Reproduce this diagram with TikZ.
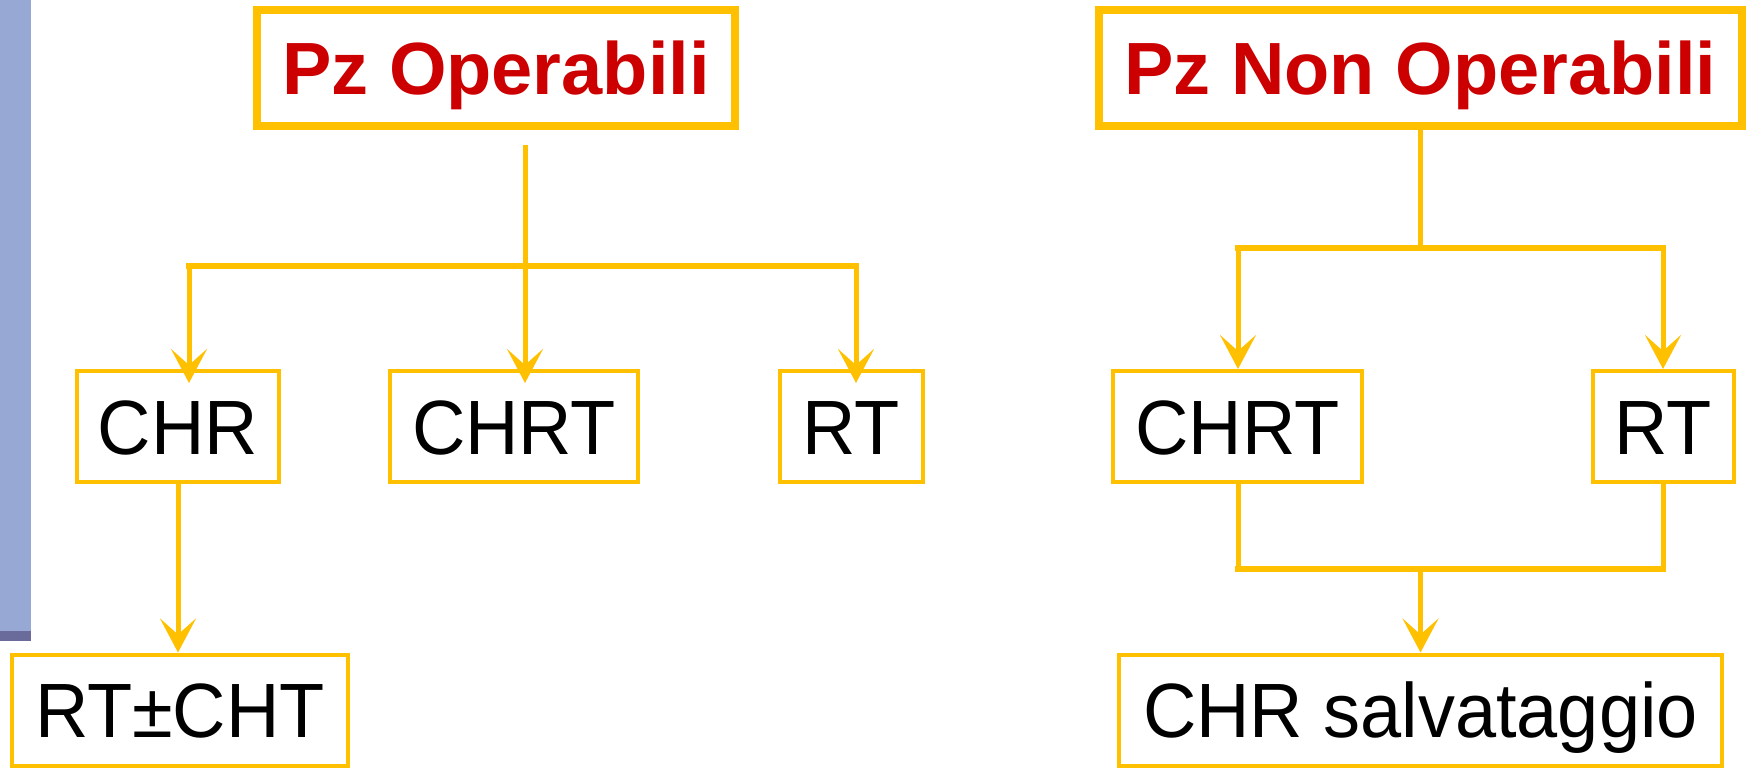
\documentclass[tikz,border=0pt]{standalone}
\usepackage{fontspec}
\setmainfont{Liberation Sans}
\newfontfamily\boxfont[FakeStretch=0.96]{Liberation Sans}
\usepackage{tikz}
\usetikzlibrary{arrows.meta}
\definecolor{pzyellow}{HTML}{FFC000}
\definecolor{pzred}{HTML}{CC0000}
\definecolor{barblue}{HTML}{98A8D4}
\definecolor{bardark}{HTML}{6B6B9B}
\newcommand{\treehead}[4] {\node at (#1) (#2) [rectangle, draw=pzyellow, line width=8pt, minimum width=#3, minimum height=116pt, text height=53pt, text depth=0pt, text=pzred, font=\fontsize{74}{88}\selectfont\bfseries] {#4};}
\newcommand{\treebox}[4] {\node at (#1) (#2) [rectangle, draw=pzyellow, line width=4pt, minimum width=#3, minimum height=111pt, text height=55pt, text depth=0pt, font=\boxfont\fontsize{77}{92}\selectfont] {#4};}
\newcommand{\treeline}[2] {\draw [link] (#1) -- (#2);}
\newcommand{\treebar}[2] {\draw [crossbar] (#1) -- (#2);}
\newcommand{\treearrow}[2] {\draw [link, tip] (#1) -- (#2);}
\tikzset{
  link/.style={draw=pzyellow, line width=5pt},
  crossbar/.style={draw=pzyellow, line width=6.5pt, line cap=rect},
  tip/.style={-{Stealth[length=34pt, width=36pt, inset=16pt]}}
}

\begin{document}
\begin{tikzpicture}[x=1pt, y=-1pt]
\useasboundingbox (0,0) rectangle (1746,768);

\fill [barblue] (0,0) rectangle (31,631);
\fill [bardark] (0,631) rectangle (31,641);

\treehead {496,68}{op}{478pt}{Pz Operabili}
\treehead {1420.5,68}{nop}{643pt}{Pz Non Operabili}

\treebox {178,426.5}{chrL}{202pt}{CHR}
\treebox {514,426.5}{chrtL}{248pt}{CHRT}
\treebox {851.5,426.5}{rtL}{143pt}{RT}
\treebox {180,710}{rtcht}{336pt}{RT\textpm CHT}

\treebox {1237.5,426.5}{chrtR}{249pt}{CHRT}
\treebox {1663.5,426.5}{rtR}{141pt}{RT}
\treebox {1420.5,710}{salv}{603pt}{CHR salvataggio}

\coordinate (optop) at (525,145);
\coordinate (opmid) at (525,266);
\coordinate (opleft) at (189,266);
\coordinate (opright) at (856,266);
\treeline {optop}{opmid}
\treebar {opleft}{opright}
\treearrow {opleft}{[yshift=-14pt]opleft |- chrL.north}
\treearrow {opmid}{[yshift=-14pt]opmid |- chrtL.north}
\treearrow {opright}{[yshift=-14pt]opright |- rtL.north}
\treearrow {chrL.south}{chrL.south |- rtcht.north}

\coordinate (npleft) at (1238,248);
\coordinate (npright) at (1663,248);
\treeline {nop.south}{nop.south |- npleft}
\treebar {npleft}{npright}
\treearrow {npleft}{npleft |- chrtR.north}
\treearrow {npright}{npright |- rtR.north}

\coordinate (mgleft) at (1238,569);
\coordinate (mgright) at (1663,569);
\treeline {mgleft |- chrtR.south}{mgleft}
\treeline {mgright |- rtR.south}{mgright}
\treebar {mgleft}{mgright}
\treearrow {salv.north |- mgleft}{salv.north}

\end{tikzpicture}
\end{document}
